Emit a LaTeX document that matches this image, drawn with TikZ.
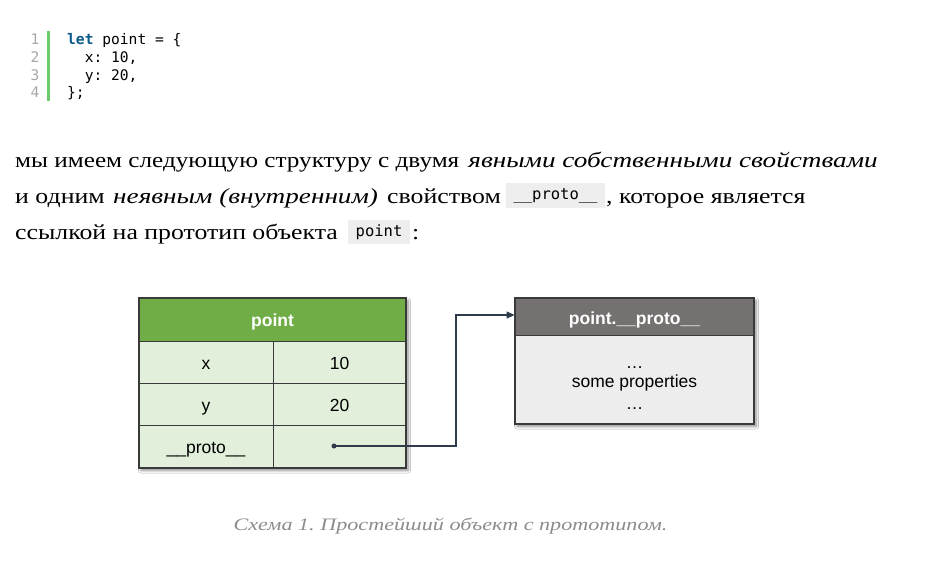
\documentclass[tikz,border=0pt]{standalone}
\usepackage{fontspec}
\setmainfont{Liberation Serif}
\newfontfamily\pararm[FakeStretch=1.2]{Liberation Serif}
\newfontfamily\parait[FakeStretch=1.265]{Liberation Serif}
\newfontfamily\firstrm[FakeStretch=1.172]{Liberation Serif}
\newfontfamily\diagsans{Liberation Sans}
\newfontfamily\codemono{DejaVu Sans Mono}
\usetikzlibrary{shadows,shadows.blur,arrows.meta}
\frenchspacing
\definecolor{hdrgreen}{HTML}{70AD47}
\definecolor{cellgreen}{HTML}{E2EFDA}
\definecolor{hdrgrey}{HTML}{767171}
\definecolor{bodygrey}{HTML}{EDEDED}
\definecolor{framec}{HTML}{3A3A3A}
\definecolor{codebg}{HTML}{EEEEEE}
\definecolor{lnum}{HTML}{A8A8A8}
\definecolor{gutter}{HTML}{6CCB6C}
\definecolor{kw}{HTML}{0B5A8C}
\definecolor{capgrey}{HTML}{8C8C8C}
\definecolor{arrowc}{HTML}{2F3B4A}
\tikzset{
  txt/.style={inner sep=0pt, anchor=base west},
  para/.style={txt, font=\fontsize{21.5}{25}\selectfont\pararm},
  itpara/.style={txt, font=\fontsize{21.5}{25}\selectfont\parait\itshape},
  codeln/.style={txt, font=\fontsize{14.6}{17}\selectfont\codemono},
  lineno/.style={inner sep=0pt, anchor=base, text=lnum, font=\fontsize{14.6}{17}\selectfont\codemono},
  inlinecode/.style={fill=codebg, inner sep=0pt, font=\fontsize{15.5}{18}\selectfont\codemono},
  celltext/.style={inner sep=0pt, text height=15pt, text depth=1pt},
  cell/.style={celltext, draw=framec, line width=0.8pt, fill=cellgreen, text=black,
    font=\fontsize{17.5}{20}\selectfont\diagsans},
  ghead/.style={celltext, draw=framec, line width=0.8pt, fill=hdrgreen, text=white,
    font=\fontsize{17.5}{20}\selectfont\diagsans\bfseries},
  phead/.style={celltext, draw=framec, line width=0.8pt, fill=hdrgrey, text=white,
    text height=16pt, text depth=0pt,
    font=\fontsize{17.5}{20}\selectfont\diagsans\bfseries},
  pbody/.style={draw=framec, line width=0.8pt, fill=bodygrey, inner sep=0pt},
  ptext/.style={inner sep=0pt, anchor=base, text=black, font=\fontsize{17.5}{20}\selectfont\diagsans},
  conn/.style={draw=arrowc, line width=1.1pt, -{Triangle[length=8pt,width=7pt]}},
  boxshadow/.style={blur shadow={shadow xshift=2pt, shadow yshift=-2.5pt, shadow blur steps=8,
    shadow blur radius=2.5pt, shadow opacity=45}},
}
\begin{document}
\begin{tikzpicture}[x=1pt,y=-1pt]
\useasboundingbox[fill=white] (0,0) rectangle (925,568);

% code block
\fill[gutter] (46.5,31) rectangle (49.5,101);
\node[lineno] (n1) at (35,44) {1};
\node[lineno] (n2) at (35,62) {2};
\node[lineno] (n3) at (35,80) {3};
\node[lineno] (n4) at (35,97.5) {4};
\node[codeln] (c1) at (67,44) {\textcolor{kw}{\bfseries let} point = \{};
\node[codeln] (c2) at (67,62) {\ \ x: 10,};
\node[codeln] (c3) at (67,80) {\ \ y: 20,};
\node[codeln] (c4) at (67,97.5) {\};};

% paragraph
\node[txt, font=\fontsize{21.5}{25}\selectfont\firstrm] (p1a) at (15,167) {мы имеем следующую структуру с двумя};
\node[itpara, anchor=base east] (p1b) at (878,167) {явными собственными свойствами};
\node[para] (p2a) at (15,203) {и одним};
\node[itpara] (p2b) at (113,203) {неявным (внутренним)};
\node[para] (p2c) at (387,203) {свойством};
\node[inlinecode, minimum width=99pt, minimum height=25pt] (pc1) at (555.5,195.5) {\_\_proto\_\_};
\node[para] (p2d) at (606,203) {, которое является};
\node[para] (p3a) at (15,239) {ссылкой на прототип объекта};
\node[inlinecode, minimum width=62pt, minimum height=24pt] (pc2) at (379,232) {point};
\node[para] (p3b) at (412,239) {:};

% table "point"
\path[boxshadow, fill=white] (139,298) rectangle (406,468);
\node[ghead, minimum width=267pt, minimum height=43pt] (hdr) at (272.5,319.5) {point};
\node[cell, minimum width=134pt, minimum height=42pt] (kx) at (206,362) {x};
\node[cell, minimum width=133pt, minimum height=42pt] (vx) at (339.5,362) {10};
\node[cell, minimum width=134pt, minimum height=42pt] (ky) at (206,404) {y};
\node[cell, minimum width=133pt, minimum height=42pt] (vy) at (339.5,404) {20};
\node[cell, minimum width=134pt, minimum height=43pt] (kp) at (206,446.5) {\_\_proto\_\_};
\node[cell, minimum width=133pt, minimum height=43pt] (vp) at (339.5,446.5) {};
\draw[framec, line width=1.1pt] (139,298) rectangle (406,468);

% proto box
\path[boxshadow, fill=white] (515,298) rectangle (754,424);
\node[phead, minimum width=239pt, minimum height=37pt] (phdr) at (634.5,316.5) {point.\_\_proto\_\_};
\node[pbody, minimum width=239pt, minimum height=89pt] (pbd) at (634.5,379.5) {};
\node[ptext] (d1) at (634.5,368.5) {\ldots};
\node[ptext] (sp) at (634.5,387) {some properties};
\node[ptext] (d2) at (634.5,409) {\ldots};
\draw[framec, line width=1.1pt] (515,298) rectangle (754,424);

% connector
\node[circle, fill=arrowc, inner sep=0pt, minimum size=5pt] (dot) at (334,446) {};
\coordinate (elb) at (456,315);
\draw[conn] (dot.center) -| (elb) -- (elb -| phdr.west);

% caption
\node[inner sep=0pt, anchor=base, text=capgrey, font=\fontsize{17.5}{20}\selectfont\parait\itshape] (cap) at (450.5,530) {Схема 1. Простейший объект с прототипом.};
\end{tikzpicture}
\end{document}
